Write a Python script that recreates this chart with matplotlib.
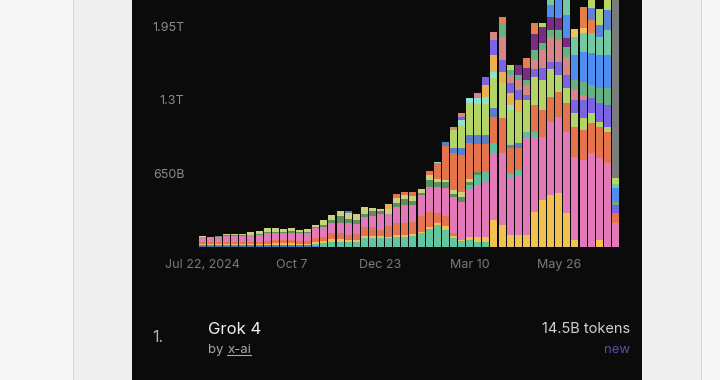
import matplotlib
matplotlib.use("Agg")
import matplotlib.pyplot as plt
import numpy as np
import pandas as pd
from matplotlib.patches import Rectangle
from matplotlib.lines import Line2D

plt.rcParams['font.family'] = ['Inter', 'DejaVu Sans']

# ---- data (billions of tokens per week) ----
weeks = pd.date_range("2024-07-22", periods=52, freq="7D")
tick_idx = [0, 11, 22, 33, 44]
tick_labels = ["Jul 22, 2024", "Oct 7", "Dec 23", "Mar 10", "May 26"]
y_ticks = [650, 1300, 1950]
y_labels = ["650B", "1.3T", "1.95T"]

blue_low = [11.5]*8 + [12.4]*6 + [7] + [0]*37
teal_b = [0]*14 + [19.5,35,44,44,44,44,71,71,71,71,80,88,93,115,159,186,150,73,49,57,42,42] + [0]*16
yellow = [7,7,7,9,9,9,10.6,10.6,13,17.7,17.7,17.7,13,13,17.7,17.7,20,20,17.7,17.7,17.7,17.7,17.7,13,
          17.7,17.7,17.7,15,15,20,29,17.7,9,29,44,44,234,190,102,102,102,308,411,455,470,294,57,0,0,57,0,0]
orange_low = [19.5,17.7,19.5,19.5,19.5,19.5,22,22,26.5,26.5,26.5,26.5,26.5,26.5,29,35,59,59,40,53,80,80,
              53,97,110,102,106,141,133,88,88,26.5] + [0]*20
pink = [46,44,49.5,56,56,53,57.5,62,66,62,62,66,66,71,88,88,88,88,106,88,88,102,141.5,110.5,141.5,155,
        146,186,221,236,250,318,339,413,457,486,590,634,516,531,855,648,560,648,678,723,737,765,824,723,736,205]
teal_mid = [0]*33 + [44,88,88,88,0,29,44,59,59] + [0]*10
dkgreen = [4.4,3.5,4.4,4.4,4.4,4.4,4.4,4.4,9,9,9,13,9,9,13,17.7,24,56,35,35,26.5,44,26.5,0,35,53,44,17.7,
           62,38,53,29,44,29,29] + [0]*17
lime_low = [4.4,4.4,5.3,6.2,6.2,9,22,31,36,32,27.5,32,18.6,23,19.5,40,47,50,53,48.6,62,22,17.7,44,44,44,
            44,33.6,38,29,20,35,44,29] + [0]*18
orange_mid = [0]*24 + [35,22,31,0,44,139,301,325,325,310,250,250,236,310,221,192,0,236,236,221,221,250,
                       265,265,265,280,280,88]
steelblue = [0]*18 + [22] + [0]*11 + [29,44,59,73,73,73,73,0,29,44] + [0]*12
lightgreen = [0]*31 + [162,206,286,280,280,265,310,310,280,280,250,265,250,148,133,118,103,88,44,44,0]
cyan = [0]*29 + [15,0,0,44,47,50,59,59,0,44] + [0]*13
gold = [0]*23 + [40] + [0]*11 + [103,148,103,103,103] + [0]*12
violet = [0]*32 + [29,0,0,73,133,103,88,88,44,73,103,59,118,118,118,162,133,162,192,73]
salmon = [0]*31 + [24,29,0,47,0,73,206,73,88,88,88,162,221,192,162,88,44] + [0]*4
green = [0]*37 + [118,44,44,44,73,59,59,88,88,88,118,118,133,148,29]
purple = [0]*39 + [88,103,148,148,118,103,73] + [0]*6
brightblue = [0]*43 + [103,221,206,221,265,280,295,295,118]
teal_top = [0]*43 + [133,71,195,162,162,177,162,221,44]
gold_top = [0]*46 + [73,44] + [0]*4
orange_top = [0]*37 + [59,0,0,88,95,0,0,0,0,0,192,118] + [0]*3
blue_top = [0]*48 + [103,103,177,0]
lime_top = [0]*38 + [44,0,0,0,35,0,0,0,0,0,133,139,141,50]

series = [
    (blue_low, "#4a7bd0"), (teal_b, "#63c4a0"), (yellow, "#f1c24f"), (orange_low, "#e37552"),
    (pink, "#e27ab9"), (teal_mid, "#5fbf9c"), (dkgreen, "#5e8f5e"), (lime_low, "#c9d27a"),
    (orange_mid, "#e4744c"), (steelblue, "#5b7fc6"), (lightgreen, "#b4d466"), (cyan, "#8de3d2"),
    (gold, "#eab04d"), (violet, "#7a64e4"), (salmon, "#d88585"), (green, "#67b083"),
    (purple, "#7b2b85"), (brightblue, "#4f8ef0"), (teal_top, "#72c9a2"), (gold_top, "#f3c35a"),
    (orange_top, "#e6804a"), (blue_top, "#5c84d6"), (lime_top, "#b9d563"),
]

W, H = 720, 380
fig = plt.figure(figsize=(7.2, 3.8), dpi=100)
fig.patch.set_facecolor("#f7f7f7")

def px(x0, y0, w, h, color):
    fig.patches.append(Rectangle((x0 / W, 1 - (y0 + h) / H), w / W, h / H,
                                 transform=fig.transFigure, facecolor=color,
                                 edgecolor="none", zorder=-5))

px(74, 0, 58, H, "#efefef")
px(73, 0, 1, H, "#d6d6d6")
px(642, 0, 59, H, "#efefef")
px(701, 0, 1, H, "#d6d6d6")
px(132, 0, 510, H, "#0b0b0b")

ymax = 2180
ax = fig.add_axes([198.3 / W, 1 - 246.5 / H, 421.2 / W, 246.5 / H])
ax.set_facecolor("none")
ax.set_zorder(2)
x = np.arange(len(weeks))
bw = 0.86

# hover highlight column on the last week
ax.bar(x[-1], ymax, width=bw, color="#7c7c7c", zorder=1)

bottom = np.zeros(len(weeks))
for vals, col in series:
    v = np.array(vals, dtype=float)
    ax.bar(x, v, bottom=bottom, width=bw, color=col, linewidth=0, zorder=2)
    bottom += v

ax.set_xlim(-0.5, len(weeks) - 0.5)
ax.set_ylim(0, ymax)
for s in ax.spines.values():
    s.set_visible(False)
ax.set_yticks(y_ticks)
ax.set_yticklabels(y_labels)
ax.set_xticks(tick_idx)
ax.set_xticklabels(tick_labels)
ax.tick_params(axis="y", length=0, pad=10, labelsize=9, labelcolor="#8a8a8a")
ax.tick_params(axis="x", length=0, pad=9, labelsize=9, labelcolor="#7a7a7a")

# ranking row
fig.text(152 / W, 1 - 338 / H, "1.", fontsize=11.5, color="#b0b0b0", va="center", ha="left", zorder=3)
fig.text(208 / W, 1 - 330 / H, "Grok 4", fontsize=12, color="#f2f2f2", va="center", ha="left", zorder=3)
t1 = fig.text(208 / W, 1 - 350 / H, "by ", fontsize=9.5, color="#a8a8a8", va="center", ha="left", zorder=3)
fig.canvas.draw()
r = fig.canvas.get_renderer()
e1 = t1.get_window_extent(r)
t2 = fig.text(e1.x1 / W, 1 - 350 / H, "x-ai", fontsize=9.5, color="#a8a8a8", va="center", ha="left", zorder=3)
e2 = t2.get_window_extent(r)
fig.lines.append(Line2D([e2.x0 / W, e2.x1 / W], [(e2.y0 + 1) / H, (e2.y0 + 1) / H],
                        transform=fig.transFigure, color="#a8a8a8", linewidth=0.8, zorder=3))
fig.text(630 / W, 1 - 329 / H, "14.5B tokens", fontsize=10.5, color="#d0d0d0", va="center", ha="right", zorder=3)
fig.text(630 / W, 1 - 350 / H, "new", fontsize=9.5, color="#5850b0", va="center", ha="right", zorder=3)

fig.savefig("out.png", dpi=100, facecolor=fig.get_facecolor())
